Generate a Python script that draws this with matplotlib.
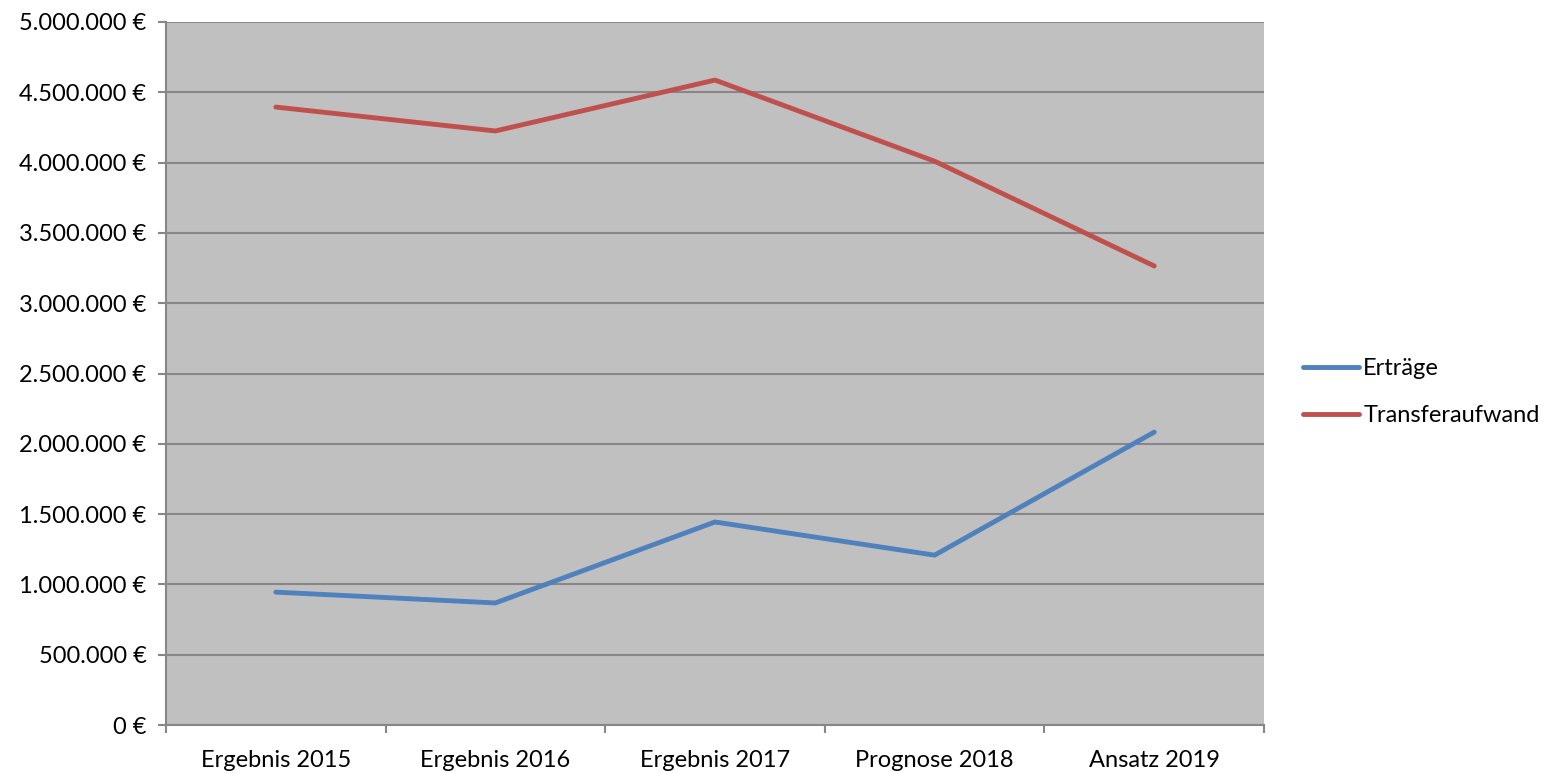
import matplotlib.pyplot as plt
from matplotlib.ticker import FuncFormatter, MultipleLocator

categories = ["Ergebnis 2015", "Ergebnis 2016", "Ergebnis 2017", "Prognose 2018", "Ansatz 2019"]
ertraege = [945000, 868000, 1444000, 1208000, 2083000]
transferaufwand = [4395000, 4225000, 4587000, 4010000, 3265000]

plt.rcParams["font.family"] = ["Lato", "DejaVu Sans"]
FS = 17

fig = plt.figure(figsize=(15.57, 7.73), dpi=100)
ax = fig.add_axes([166 / 1557, 1 - 725 / 773, (1264 - 166) / 1557, (725 - 22) / 773])
ax.set_facecolor("#C0C0C0")

x = range(len(categories))
ax.plot(x, ertraege, color="#4F81BD", lw=3.5, solid_capstyle="round", label="Erträge")
ax.plot(x, transferaufwand, color="#C0504D", lw=3.5, solid_capstyle="round", label="Transferaufwand")

ax.set_xlim(-0.5, len(categories) - 0.5)
ax.set_ylim(0, 5000000)
ax.yaxis.set_major_locator(MultipleLocator(500000))
ax.yaxis.set_major_formatter(FuncFormatter(lambda v, _: f"{int(v):,}".replace(",", ".") + " €"))
ax.grid(axis="y", color="#878787", lw=1.5)
ax.set_axisbelow(True)

ax.set_xticks([i - 0.5 for i in range(len(categories) + 1)], minor=False)
ax.set_xticklabels([])
ax.set_xticks(list(x), minor=True)
ax.set_xticklabels(categories, minor=True)
ax.tick_params(axis="x", which="minor", length=0, pad=18, labelsize=FS)
ax.tick_params(axis="x", which="major", length=6, color="#878787", width=1.5)
ax.tick_params(axis="y", length=6, color="#878787", width=1.5, labelsize=FS, pad=8)

for s in ["top", "right"]:
    ax.spines[s].set_visible(False)
for s in ["left", "bottom"]:
    ax.spines[s].set_color("#878787")
    ax.spines[s].set_linewidth(1.5)

ax.legend(loc="center left", bbox_to_anchor=(1.027, 0.474), frameon=False, fontsize=FS,
          handlelength=2.35, handletextpad=0.2, labelspacing=1.1, borderaxespad=0)

fig.savefig("out.png", dpi=100)
